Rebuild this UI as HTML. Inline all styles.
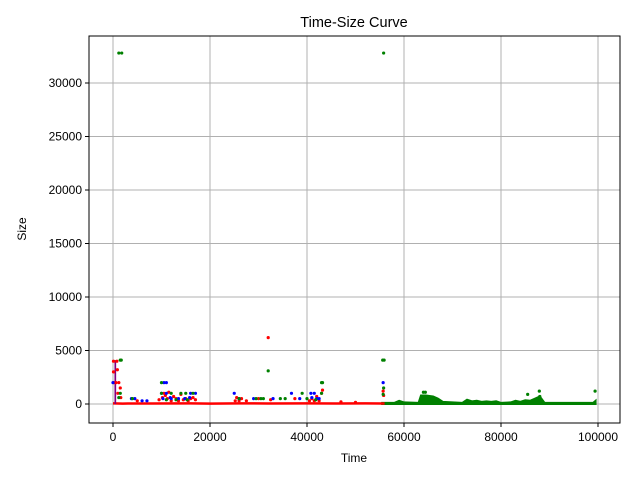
<!DOCTYPE html>
<html><head><meta charset="utf-8"><style>
body{margin:0;background:#fff;font-family:"Liberation Sans",sans-serif}
</style></head><body>
<svg width="640" height="480" xmlns="http://www.w3.org/2000/svg" font-family="Liberation Sans, sans-serif">
<g id="grid"></g><g id="marks"></g><g id="axes"></g>
</svg>
<script>
const xTicks=[0,20000,40000,60000,80000,100000];
const yTicks=[0,5000,10000,15000,20000,25000,30000];
const redBaseline=[[0,60],[2000,40],[8000,50],[16000,60],[20000,40],[26000,60],[32000,50],[40000,60],[46000,50],[52000,60],[56000,50]];
const greenProfile=[[55500,0],[55500,100],[58000,100],[59000,300],[60000,150],[63000,100],[63500,800],[64500,800],[66000,700],[67000,500],[68000,200],[72000,100],[73000,400],[74000,250],[75000,300],[76000,200],[77000,250],[78000,200],[79000,250],[80000,100],[82000,150],[83000,300],[84000,200],[85000,350],[86000,300],[87000,500],[88000,700],[89000,100],[93000,100],[99000,100],[99500,300],[99500,0]];
const purpleBar=[[300,0],[300,4100],[650,4100],[650,0]];
const redPoints=[[32000,6200],[100,4000],[800,4000],[100,3000],[100,2000],[900,3200],[1200,2000],[600,2000],[1500,1500],[1000,1000],[1600,600],[10500,1000],[11500,1100],[12500,700],[14000,900],[15000,500],[16500,600],[10200,600],[10800,800],[11200,500],[12000,300],[13500,300],[14500,400],[15500,300],[16000,500],[25500,600],[26500,500],[25200,300],[26000,300],[30000,500],[32500,400],[37500,500],[41000,500],[42000,700],[43000,1000],[43200,1300],[41500,300],[42500,300],[40500,300],[55700,1200],[55800,800],[13000,500],[17000,400],[9500,400],[5000,300],[27500,300],[47000,200],[50000,150]];
const bluePoints=[[0,2000],[10500,2000],[11000,2000],[55700,2000],[36800,1000],[25000,1000],[40800,1000],[41500,1000],[10000,1000],[11000,1000],[4500,500],[3800,500],[6000,300],[7000,300],[13500,500],[16000,1000],[17000,1000],[26000,500],[33000,500],[38500,500],[42500,500],[29000,500],[12000,500],[10300,500],[11800,600],[14800,500],[15800,600],[41000,600],[42000,500]];
const greenPoints=[[1200,32800],[1800,32800],[55800,32800],[1500,4100],[1700,4100],[55600,4100],[55900,4100],[32000,3100],[10000,2000],[43000,2000],[43200,2000],[87900,1200],[99400,1200],[64000,1100],[64400,1100],[85500,900],[88000,700],[1500,1000],[1200,600],[12000,1000],[14000,1000],[15000,1000],[16500,1000],[4000,500],[10000,1000],[26000,500],[29500,500],[30500,500],[31000,500],[34500,500],[35500,500],[39000,1000],[40000,500],[43000,1000],[55800,1500],[55700,900],[11000,400],[13000,400],[15300,400],[41800,400]];
const X=t=>113+t*0.00485, Y=s=>404-s*0.0107;
const NS="http://www.w3.org/2000/svg";
function mk(tag,at,parent){const e=document.createElementNS(NS,tag);for(const k in at)e.setAttribute(k,at[k]);document.getElementById(parent).appendChild(e);return e;}
xTicks.forEach(t=>{const l=mk('line',{x1:X(t),x2:X(t),y1:36,y2:423,stroke:'#b0b0b0','stroke-width':1},'grid');

});
yTicks.forEach(t=>{const l=mk('line',{x1:89,x2:620,y1:Y(t),y2:Y(t),stroke:'#b0b0b0','stroke-width':1},'grid');

});
const pl=a=>a.map(p=>X(p[0])+','+Y(p[1])).join(' ');
let g=mk('polygon',{points:pl(greenProfile),fill:'green',stroke:'green','stroke-width':2},'marks');


let r=mk('polyline',{points:pl(redBaseline),fill:'none',stroke:'red','stroke-width':2.5},'marks');


let pb=mk('polygon',{points:pl(purpleBar),fill:'purple'},'marks');


[[redPoints,'red','red-point'],[bluePoints,'blue','blue-point'],[greenPoints,'green','green-point']].forEach(([arr,c,n])=>{
arr.forEach(p=>{const e=mk('circle',{cx:X(p[0]),cy:Y(p[1]),r:1.6,fill:c},'marks');

});});
let f=mk('rect',{x:89,y:36,width:531,height:387,fill:'none',stroke:'#000','stroke-width':1},'axes');


xTicks.forEach(t=>{mk('line',{x1:X(t),x2:X(t),y1:423,y2:427,stroke:'#000'},'axes');
const e=mk('text',{x:X(t),y:441,'text-anchor':'middle','font-size':12},'axes');e.textContent=t;

});
yTicks.forEach(t=>{mk('line',{x1:85,x2:89,y1:Y(t),y2:Y(t),stroke:'#000'},'axes');
const e=mk('text',{x:82,y:Y(t)+4,'text-anchor':'end','font-size':12},'axes');e.textContent=t;

});
let tt=mk('text',{x:354,y:27,'text-anchor':'middle','font-size':14.5},'axes');tt.textContent='Time-Size Curve';


let xt=mk('text',{x:354,y:462,'text-anchor':'middle','font-size':12},'axes');xt.textContent='Time';


let yt=mk('text',{x:26,y:229,'text-anchor':'middle','font-size':12,transform:'rotate(-90 26 229)'},'axes');yt.textContent='Size';


</script>
</body></html>
